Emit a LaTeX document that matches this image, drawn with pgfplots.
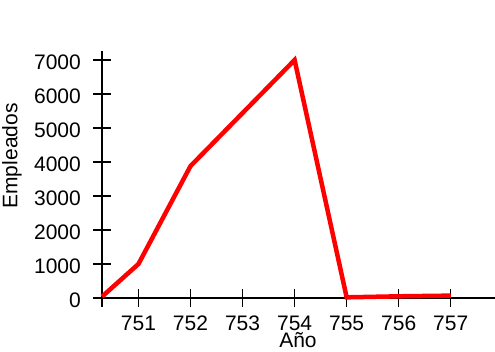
\documentclass[border=0pt]{standalone}
\usepackage{pgfplots}
\pgfplotsset{compat=1.18}
\usepackage{fontspec}
\setmainfont{Liberation Sans}
\begin{document}
\fontsize{21bp}{25bp}\selectfont
\begin{tikzpicture}[x=1bp,y=1bp]
\path[use as bounding box] (0,0) rectangle (495,351);
\begin{axis}[
  at={(102bp,53bp)}, anchor=south west,
  scale only axis, width=393bp, height=247bp,
  xmin=750.3, xmax=757.85, ymin=0, ymax=7265,
  axis lines=left,
  axis line style={-, line width=1.1bp, black},
  x axis line style={shorten <=-9bp},
  y axis line style={shorten <=-9bp},
  xtick={751,...,757}, ytick={0,1000,...,7000},
  tick align=center, major tick length=18bp,
  tick style={line width=1.1bp, black},
  /pgf/number format/assume math mode=true,
  /pgf/number format/1000 sep={},
  ticklabel style={font=\fontsize{21bp}{25bp}\selectfont, inner sep=0pt},
  xticklabel style={anchor=base, yshift=-23bp},
  yticklabel style={anchor=east, xshift=-12bp, yshift=-2bp},
  xlabel={Año}, ylabel={Empleados},
  every axis x label/.style={at={(axis description cs:0.4987,0)}, anchor=base, yshift=-49bp, inner sep=0pt, font=\fontsize{21bp}{25bp}\selectfont},
  every axis y label/.style={at={(axis description cs:-0.229,0.575)}, anchor=center, rotate=90, inner sep=0pt, font=\fontsize{21bp}{25bp}\selectfont},
  clip=false,
]
\addplot[red, line width=4.5bp, line join=miter] coordinates {
 (750.3,40) (751,1000) (752,3880) (753,5440) (754,7000) (755,20) (756,50) (757,70)
};
\end{axis}
\end{tikzpicture}
\end{document}
